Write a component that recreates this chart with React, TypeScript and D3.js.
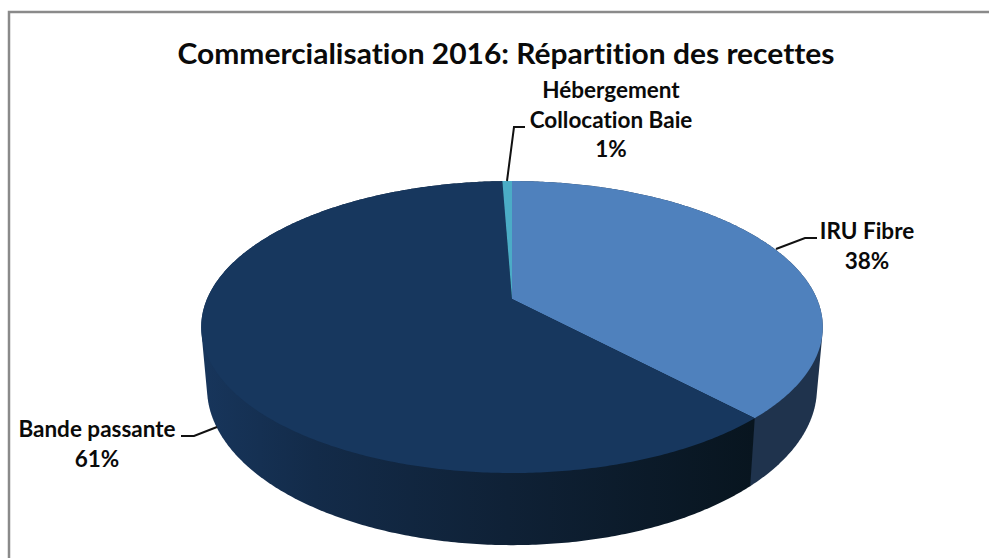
import React from "react";
import * as d3 from "d3";

const categories = ["IRU Fibre", "Bande passante", "Hébergement Collocation Baie"];
const shares = [38, 61.4, 0.6];
const topColors = ["#4f81bd", "#17375e", "#4bacc6"];
const titleText = "Commercialisation 2016: Répartition des recettes";

const W = 989, H = 558;
const cx = 512, K = 0.192;
const topDisc = { cy: 299, a: 305, b: 140.6 };
const bottomDisc = { cy: 358, a: 299.3, b: 151.2 };

// Perspective projection of a pie angle onto a tilted disc
function project(angle: number, d: { cy: number; a: number; b: number }): [number, number] {
  const u = Math.sin(angle), v = -Math.cos(angle);
  const s = 1 / (1 - K * v);
  return [cx + d.a * u * s, d.cy + d.b * v * s];
}

const pieGen = d3.pie<number>().sort(null).value((d) => d);
const arcs = pieGen(shares);
const line = d3.line();

function sample(a0: number, a1: number) {
  const n = Math.max(2, Math.ceil((a1 - a0) / 0.01));
  return d3.range(n + 1).map((i) => a0 + ((a1 - a0) * i) / n);
}
function topPath(a0: number, a1: number) {
  return line([[cx, topDisc.cy], ...sample(a0, a1).map((a) => project(a, topDisc))]) + "Z";
}
// The wall of a slice: the convex hull of its upper and lower rims
function sidePath(a0: number, a1: number) {
  const s = sample(a0, a1);
  const hull = d3.polygonHull([
    ...s.map((a) => project(a, topDisc)),
    ...s.map((a) => project(a, bottomDisc)),
  ]) as [number, number][];
  return line(hull) + "Z";
}

const sideFills = ["#1f334d", "url(#frontSide)", "#17375e"];

const labelLayout = [
  { lines: ["IRU Fibre"], x: 867, y: 239, leader: [[776, 249], [805, 238], [817, 238]] as [number, number][] },
  { lines: ["Bande passante"], x: 97, y: 437, leader: [[217, 427], [194, 436], [181, 436]] as [number, number][] },
  { lines: ["Hébergement", "Collocation Baie"], x: 611, y: 98, leader: [[507, 181], [514, 127], [525, 127]] as [number, number][] },
];
const fontFamily = "Lato, Carlito, 'Noto Sans', sans-serif";
const textStyle = { fontVariantLigatures: "none" } as React.CSSProperties;

export default function App() {
  return (
    <svg width={W} height={H} viewBox={`0 0 ${W} ${H}`} style={{ position: "absolute", left: 0, top: 0, background: "#fff" }}>
      <defs>
        <linearGradient id="frontSide" gradientUnits="userSpaceOnUse" x1={205} x2={755} y1={0} y2={0}>
          <stop offset="0" stopColor="#17355b" />
          <stop offset="0.2" stopColor="#132b49" />
          <stop offset="0.55" stopColor="#0f2136" />
          <stop offset="1" stopColor="#08151f" />
        </linearGradient>
      </defs>
      <path d={`M9 ${H}V12H${W}`} fill="none" stroke="#8a8a8a" strokeWidth={2.5} />
      <text x={506} y={64} textAnchor="middle" fontFamily={fontFamily} fontWeight={700} fontSize={29} fill="#0a0a0a" textLength={657} lengthAdjust="spacingAndGlyphs" style={textStyle}>
        {titleText}
      </text>
      {arcs.map((a, i) => (
        <path key={"s" + i} d={sidePath(a.startAngle, a.endAngle)} fill={sideFills[i]} />
      ))}
      {arcs.map((a, i) => (
        <path key={"t" + i} d={topPath(a.startAngle, a.endAngle)} fill={topColors[i]} />
      ))}
      {labelLayout.map((l, i) => (
        <g key={categories[i]}>
          <path d={line(l.leader) as string} fill="none" stroke="#111" strokeWidth={2} />
          <text textAnchor="middle" fontFamily={fontFamily} fontWeight={700} fontSize={22.5} fill="#0a0a0a" style={textStyle}>
            {[...l.lines, `${Math.round(shares[i])}%`].map((t, j) => (
              <tspan key={j} x={l.x} y={l.y + j * 29.5}>{t}</tspan>
            ))}
          </text>
        </g>
      ))}
    </svg>
  );
}
